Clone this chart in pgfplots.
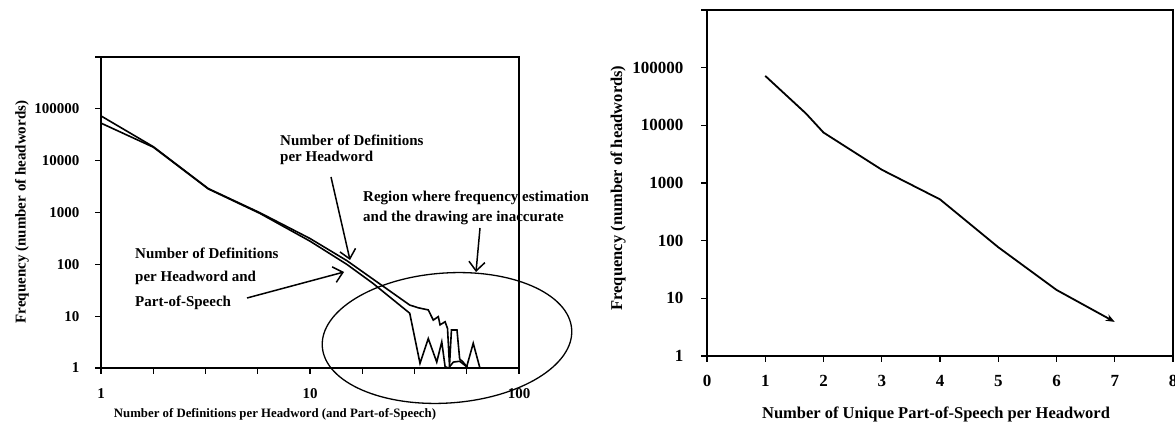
\documentclass[border=0pt]{standalone}
\usepackage{fontspec}
\setmainfont{Liberation Serif}
\usepackage{pgfplots}
\pgfplotsset{compat=1.18}
\usetikzlibrary{arrows.meta}
\begin{document}
\begin{tikzpicture}
\useasboundingbox (0pt,0pt) rectangle (1175pt,426pt);
\begin{axis}[
  scale only axis, anchor=south west,
  at={(101pt,58pt)}, width=418pt, height=311pt,
  xmode=log, ymode=log, xmin=1, xmax=100, ymin=1, ymax=1000000,
  xtick={1,1.77828,3.16228,5.62341,10,17.7828,31.6228,56.2341,100},
  xticklabels={1,,,,10,,,,100},
  ytick={1,10,100,1000,10000,100000,1000000},
  yticklabels={1,10,100,1000,10000,100000,{}},
  xminorticks=false, yminorticks=false,
  tick align=outside, major tick length=6pt,
  xtick pos=bottom, ytick pos=left,
  axis line style={line width=1.4pt},
  tick style={line width=1.3pt, black},
  tick label style={font=\fontsize{15}{15}\selectfont\bfseries},
  xticklabel style={yshift=-11pt},
  yticklabel style={xshift=-12pt},
  clip=false,
]
\addplot[black, line width=1.6pt] coordinates {
(1,73000)(1.78,18600)(3.26,2900)(5.76,990)(10,315)(15,118)(20,52)(30,16.4)
(33,14.5)(36.8,13.2)(38.9,8.4)(41.1,9.8)(41.9,6.8)(44.3,7.8)(45.5,5.8)(46.5,1.1)
(47.5,5.4)(50.5,5.4)(52,1.5)(54,1.3)(57,1.0)};
\addplot[black, line width=1.6pt] coordinates {
(1,53000)(1.78,18200)(3.26,2850)(5.76,960)(10,280)(15,100)(20,43)(30,11.4)
(33.6,1.23)(36.8,3.7)(40.4,1.3)(42.7,3.2)(44.3,1.06)(46,1.0)(48.5,1.3)
(52,1.35)(56.2,1.06)(60.4,3.0)(65,1.0)};
\end{axis}
\begin{axis}[
  scale only axis, anchor=south west,
  at={(707pt,70pt)}, width=466pt, height=346pt,
  ymode=log, xmin=0, xmax=8, ymin=1, ymax=1000000,
  xtick={0,1,2,3,4,5,6,7,8},
  xticklabels={0,1,2,3,4,5,6,7,8},
  ytick={1,10,100,1000,10000,100000,1000000},
  yticklabels={1,10,100,1000,10000,100000,{}},
  yminorticks=false,
  tick align=outside, major tick length=6pt,
  xtick pos=bottom, ytick pos=left,
  axis line style={line width=1.4pt},
  tick style={line width=1.3pt, black},
  tick label style={font=\fontsize{17}{17}\selectfont\bfseries},
  xticklabel style={yshift=-10pt},
  yticklabel style={xshift=-14pt},
  clip=false,
]
\addplot[black, line width=1.8pt, -{Stealth[length=9pt,width=7pt]}] coordinates {
(1,72000)(1.7,16000)(2,7500)(3,1700)(4,520)(5,77)(6,14)(7,3.9)};
\end{axis}
\begin{scope}[x=1pt,y=1pt]
% axis titles
\node[rotate=90, font=\fontsize{15}{15}\selectfont\bfseries] at (22,214) {Frequency (number of headwords)};
\node[font=\fontsize{12.8}{12.8}\selectfont\bfseries] at (275,12) {Number of Definitions per Headword (and Part-of-Speech)};
\node[rotate=90, font=\fontsize{16.5}{16.5}\selectfont\bfseries] at (618,238) {Frequency (number of headwords)};
\node[font=\fontsize{16.5}{16.5}\selectfont\bfseries] at (936,12) {Number of Unique Part-of-Speech per Headword};
% annotations
\begin{scope}[font=\fontsize{15}{15}\selectfont\bfseries]
\node[anchor=west, inner sep=0pt] at (280,286) {Number of Definitions};
\node[anchor=west, inner sep=0pt] at (280,268) {per Headword};
\node[anchor=west, inner sep=0pt] at (363,228) {Region where frequency estimation};
\node[anchor=west, inner sep=0pt] at (363,208) {and the drawing are inaccurate};
\node[anchor=west, inner sep=0pt] at (135,173) {Number of Definitions};
\node[anchor=west, inner sep=0pt] at (135,148) {per Headword and};
\node[anchor=west, inner sep=0pt] at (135,123) {Part-of-Speech};
\end{scope}
\begin{scope}[line width=1.5pt, -{Straight Barb[length=9pt,width=16pt]}]
\draw (331,249) -- (350,166);
\draw (247,128) -- (344,154);
\draw (480,198) -- (476,154);
\end{scope}
\draw[line width=1.3pt, rotate around={4:(447,88)}] (447,88) ellipse [x radius=125, y radius=65];
\end{scope}
\end{tikzpicture}
\end{document}
